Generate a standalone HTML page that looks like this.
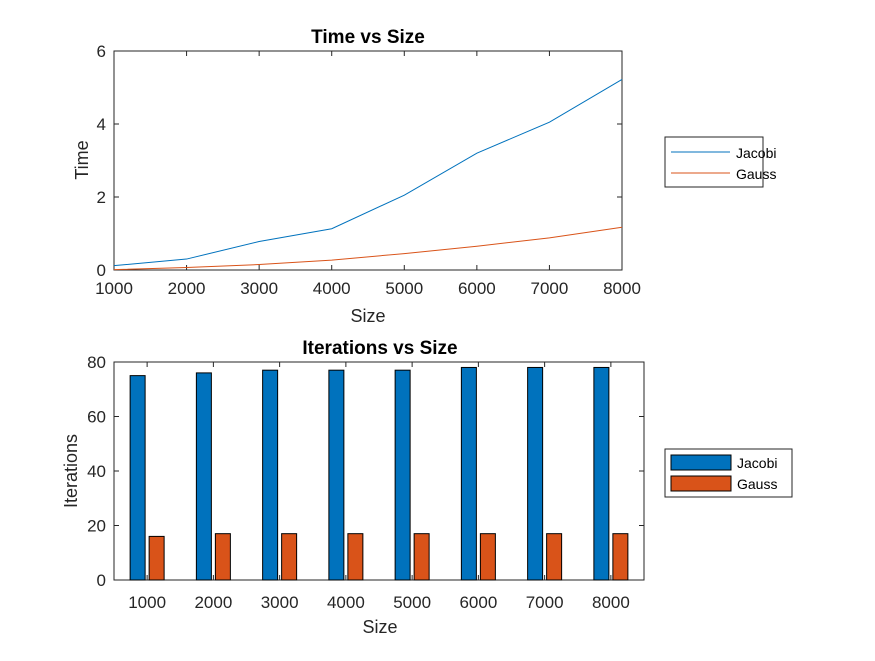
<!DOCTYPE html>
<html><head><meta charset="utf-8"><style>
body{margin:0;background:#fff;}
svg text{font-family:"Liberation Sans",Arial,sans-serif;fill:#262626;}
</style></head><body>
<svg id="fig" width="875" height="656" xmlns="http://www.w3.org/2000/svg"></svg>
<script>
const sizes = [1000,2000,3000,4000,5000,6000,7000,8000];
const jacobiTime = [0.12,0.30,0.78,1.13,2.05,3.20,4.05,5.22];
const gaussTime = [0.01,0.07,0.15,0.27,0.45,0.65,0.88,1.17];
const jacobiIter = [75,76,77,77,77,78,78,78];
const gaussIter = [16,17,17,17,17,17,17,17];
const topYTicks = [0,2,4,6];
const botYTicks = [0,20,40,60,80];
const categories = ["1000","2000","3000","4000","5000","6000","7000","8000"];

const NS="http://www.w3.org/2000/svg";
const svg=document.getElementById('fig');
function mk(tag,attrs,parent,text){const e=document.createElementNS(NS,tag);for(const k in attrs)e.setAttribute(k,attrs[k]);if(text!==undefined)e.textContent=text;(parent||svg).appendChild(e);return e;}
const blue="#0072BD", orange="#D95319";

// ---- top chart ----
const T={l:114,r:622,t:51,b:270};
const tx=v=>T.l+(v-1000)/7000*(T.r-T.l);
const ty=v=>T.b-v/6*(T.b-T.t);
const g1=mk('g',{});


mk('rect',{x:T.l,y:T.t,width:T.r-T.l,height:T.b-T.t,fill:'#fff',stroke:'#262626','stroke-width':1},g1);
sizes.forEach(s=>{const x=tx(s);
 mk('line',{x1:x,x2:x,y1:T.b,y2:T.b-5,stroke:'#262626'},g1);
 mk('line',{x1:x,x2:x,y1:T.t,y2:T.t+5,stroke:'#262626'},g1);
 const t=mk('text',{x:x,y:T.b+24,'text-anchor':'middle','font-size':17},g1,String(s));
 });
topYTicks.forEach(v=>{const y=ty(v);
 mk('line',{x1:T.l,x2:T.l+5,y1:y,y2:y,stroke:'#262626'},g1);
 mk('line',{x1:T.r,x2:T.r-5,y1:y,y2:y,stroke:'#262626'},g1);
 const t=mk('text',{x:T.l-8,y:y+6,'text-anchor':'end','font-size':17},g1,String(v));
 });
function line(vals,color,name){const p=mk('polyline',{points:vals.map((v,i)=>tx(sizes[i])+','+ty(v)).join(' '),fill:'none',stroke:color,'stroke-width':1},g1);
 }
line(jacobiTime,blue,'jacobi-time-line');
line(gaussTime,orange,'gauss-time-line');
let e=mk('text',{x:368,y:43,'text-anchor':'middle','font-size':19,'font-weight':'bold',style:'fill:#000'},g1,'Time vs Size');

e=mk('text',{x:368,y:322,'text-anchor':'middle','font-size':18},g1,'Size');

e=mk('text',{x:88,y:160,'text-anchor':'middle','font-size':18,transform:'rotate(-90 88 160)'},g1,'Time');

const l1=mk('g',{},g1);

mk('rect',{x:665,y:137,width:98,height:50,fill:'#fff',stroke:'#262626'},l1);
mk('line',{x1:671,x2:730,y1:152,y2:152,stroke:blue},l1);
mk('line',{x1:671,x2:730,y1:173,y2:173,stroke:orange},l1);
mk('text',{x:736,y:158,'font-size':14,style:'fill:#000'},l1,'Jacobi');
mk('text',{x:736,y:179,'font-size':14,style:'fill:#000'},l1,'Gauss');

// ---- bottom chart ----
const B={l:114,r:644,t:362,b:580};
const bx=i=>B.l+(i+0.5)/categories.length*(B.r-B.l);
const by=v=>B.b-v/80*(B.b-B.t);
const g2=mk('g',{});


mk('rect',{x:B.l,y:B.t,width:B.r-B.l,height:B.b-B.t,fill:'#fff',stroke:'#262626'},g2);
const bw=15;
categories.forEach((c,i)=>{const x=bx(i);
 let r=mk('rect',{x:x-2-bw,y:by(jacobiIter[i]),width:bw,height:B.b-by(jacobiIter[i]),fill:blue,stroke:'#000','stroke-width':1},g2);
 
 r=mk('rect',{x:x+2,y:by(gaussIter[i]),width:bw,height:B.b-by(gaussIter[i]),fill:orange,stroke:'#000','stroke-width':1},g2);
 
 mk('line',{x1:x,x2:x,y1:B.b,y2:B.b-5,stroke:'#262626'},g2);
 mk('line',{x1:x,x2:x,y1:B.t,y2:B.t+5,stroke:'#262626'},g2);
 const t=mk('text',{x:x,y:B.b+28,'text-anchor':'middle','font-size':17},g2,c);
 });
botYTicks.forEach(v=>{const y=by(v);
 mk('line',{x1:B.l,x2:B.l+5,y1:y,y2:y,stroke:'#262626'},g2);
 mk('line',{x1:B.r,x2:B.r-5,y1:y,y2:y,stroke:'#262626'},g2);
 const t=mk('text',{x:B.l-8,y:y+6,'text-anchor':'end','font-size':17},g2,String(v));
 });
e=mk('text',{x:380,y:354,'text-anchor':'middle','font-size':19,'font-weight':'bold',style:'fill:#000'},g2,'Iterations vs Size');

e=mk('text',{x:380,y:633,'text-anchor':'middle','font-size':18},g2,'Size');

e=mk('text',{x:77,y:471,'text-anchor':'middle','font-size':18,transform:'rotate(-90 77 471)'},g2,'Iterations');

const l2=mk('g',{},g2);

mk('rect',{x:665,y:449,width:127,height:48,fill:'#fff',stroke:'#262626'},l2);
mk('rect',{x:671,y:455,width:60,height:15,fill:blue,stroke:'#000'},l2);
mk('rect',{x:671,y:476,width:60,height:15,fill:orange,stroke:'#000'},l2);
mk('text',{x:737,y:468,'font-size':14,style:'fill:#000'},l2,'Jacobi');
mk('text',{x:737,y:489,'font-size':14,style:'fill:#000'},l2,'Gauss');
</script>
</body></html>
